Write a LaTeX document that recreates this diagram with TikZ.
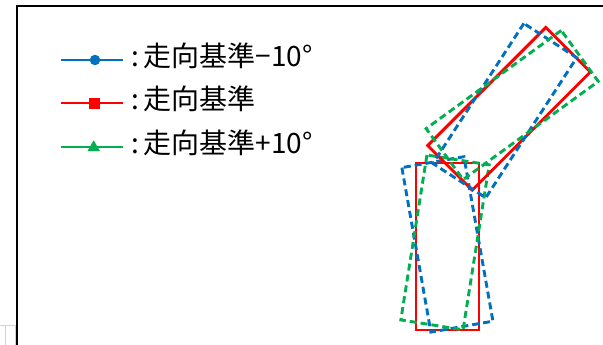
\documentclass[tikz,border=0pt]{standalone}
\usepackage{fontspec}
\usetikzlibrary{shapes.geometric}
\newfontfamily\jpfont{Noto Sans CJK JP}
\definecolor{xlblue}{HTML}{0070C0}
\definecolor{xlred}{HTML}{FF0000}
\definecolor{xlgreen}{HTML}{00B050}
\tikzset{
  legline/.style={line width=2pt},
  legtext/.style={anchor=base west, inner sep=0pt, font=\jpfont\fontsize{28}{30}\selectfont},
  solidrect/.style={draw=xlred, line width=2.9pt},
  dashrect/.style={line width=2.9pt, dash pattern=on 7pt off 4pt},
}
\newcommand{\colsep}{:\hspace{4.5pt}}
\begin{document}
\begin{tikzpicture}[x=1pt,y=-1pt]
\useasboundingbox (0,0) rectangle (603,345);
\fill[white] (0,0) rectangle (603,345);
% grey marks bottom-left
\draw[gray!35, line width=1pt] (0,325) -- (16,325);
\draw[gray!35, line width=1pt] (5,325) -- (5,345);
\draw[gray!35, line width=1pt] (15,325) -- (15,345);
% frame
\draw[black, line width=2pt] (17,345) -- (17,6) -- (603,6);

% legend
\coordinate (lb1) at (61,60);  \coordinate (lb2) at (123,60);
\coordinate (lr1) at (61,103.5); \coordinate (lr2) at (123,103.5);
\coordinate (lg1) at (61,146.5);   \coordinate (lg2) at (123,146.5);
\draw[legline, draw=xlblue] (lb1) -- (lb2);
\draw[legline, draw=xlred] (lr1) -- (lr2);
\draw[legline, draw=xlgreen] (lg1) -- (lg2);
\node[circle, fill=xlblue, inner sep=0pt, minimum size=10.5pt] (mb) at (95,60) {};
\node[rectangle, fill=xlred, inner sep=0pt, minimum size=10.7pt] (mr) at (94.7,103.5) {};
\node[regular polygon, regular polygon sides=3, fill=xlgreen, inner sep=0pt, minimum size=14.5pt] (mg) at (93.7,147.5) {};
\node[legtext] (tb) at (131,66.3) {\colsep 走向基準−10°};
\node[legtext] (tr) at (131,109.7) {\colsep 走向基準};
\node[legtext] (tg) at (131,153.5) {\colsep 走向基準+10°};

% lower rectangles
\draw[solidrect] (416,163) rectangle (479,330);
\draw[dashrect, draw=xlblue, rotate around={10:(447.4,244.4)}] (415.9,160.9) rectangle (478.9,327.9);
\draw[dashrect, draw=xlgreen, rotate around={-9:(445,242.4)}] (413.5,158.9) rectangle (476.5,325.9);

% upper rectangles
\draw[solidrect, rotate around={-45:(509,108.75)}] (477.5,25.25) rectangle (540.5,192.25);
\draw[dashrect, draw=xlblue, rotate around={-33:(504.8,110.6)}] (473.3,27.1) rectangle (536.3,194.1);
\draw[dashrect, draw=xlgreen, rotate around={-54:(512.2,105)}] (480.7,21.5) rectangle (543.7,188.5);
\end{tikzpicture}
\end{document}
